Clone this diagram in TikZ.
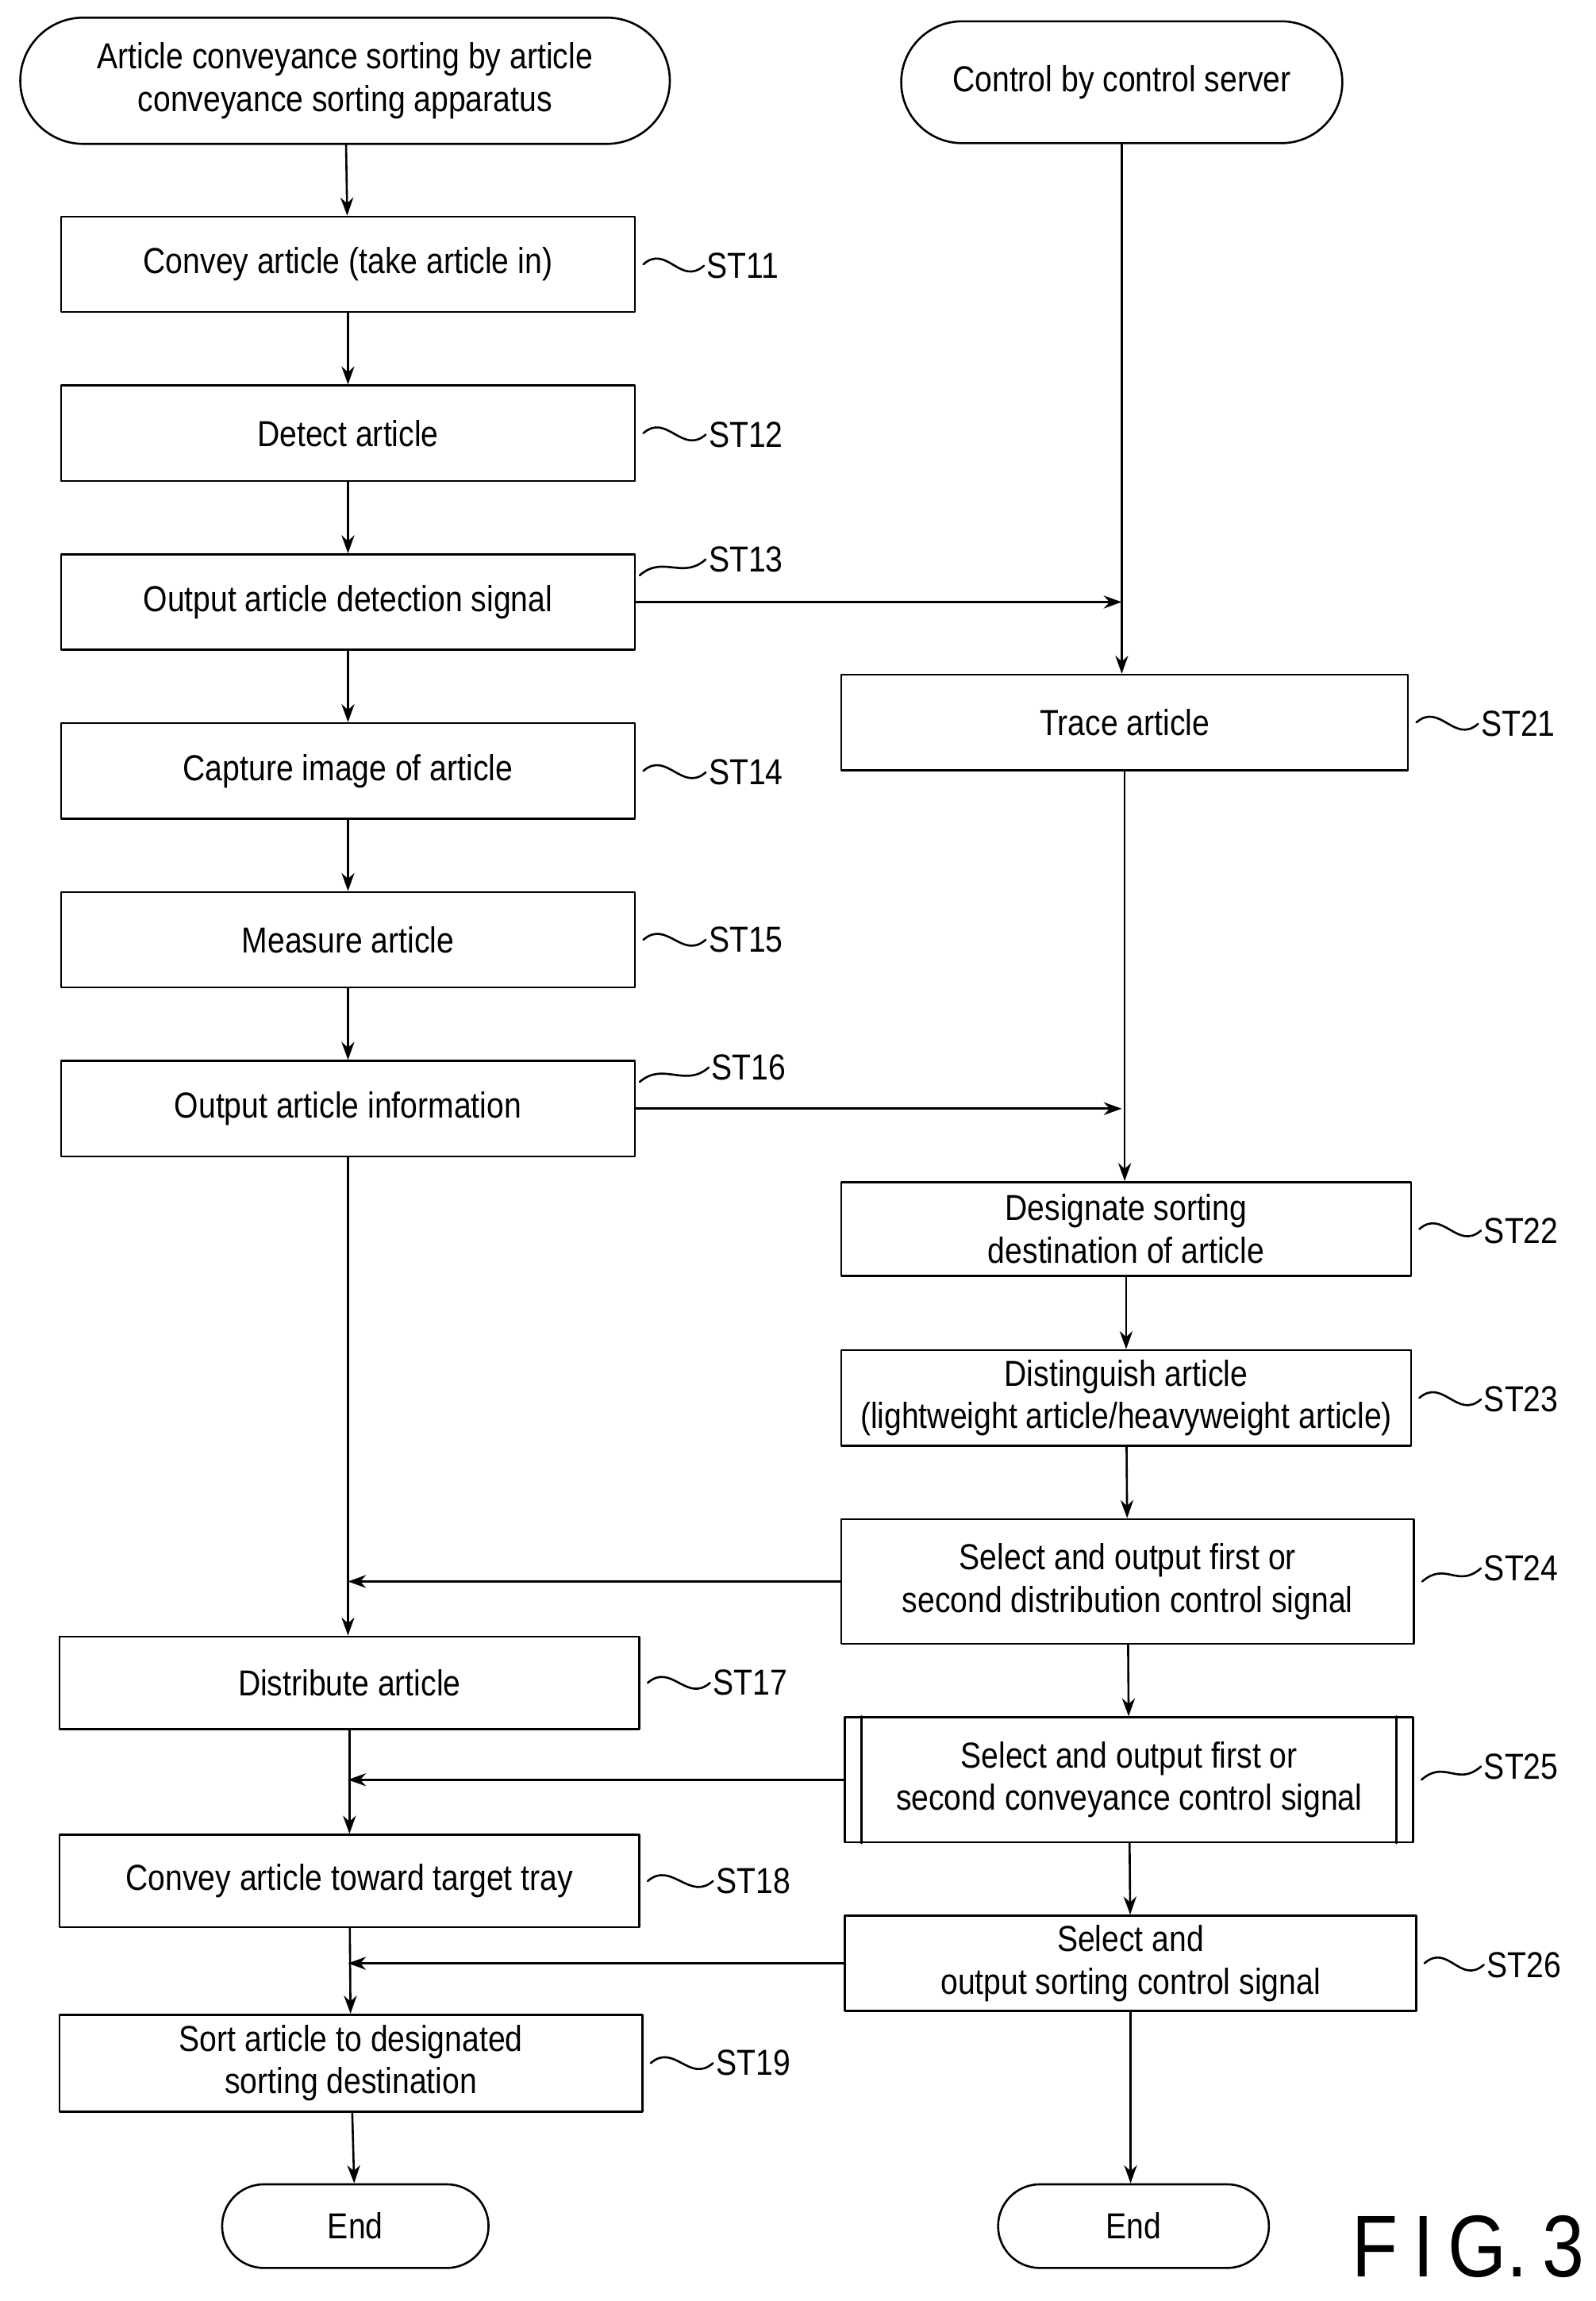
\documentclass[tikz,border=0pt]{standalone}
\usepackage{fontspec}
\setmainfont{Liberation Sans}[FakeStretch=0.86]
\usetikzlibrary{arrows.meta,positioning,shapes.misc}
\tikzset{every picture/.style={line cap=round, line join=round}}
\tikzset{box/.style={draw, rectangle, minimum width=7.82cm, minimum height=1.3cm,
  align=center, thick, inner sep=1pt}}
\tikzset{term/.style={draw, rounded rectangle, align=center, thick, inner sep=1pt}}
\tikzset{arrow/.style={-{Stealth[length=7pt,width=5pt]}, thick}}
\tikzset{line/.style={draw, thick}}
\tikzset{lab/.style={inner sep=1pt}}
\tikzset{tilde/.style={thick, to path={.. controls +(16,-14) and +(-16,14) .. (\tikztotarget)}}}

\begin{document}
\begin{tikzpicture}[x=0.02cm, y=-0.02cm, font=\fontsize{14}{16.5}\selectfont]
  \useasboundingbox (0,0) rectangle (1087,1567);
  % 開始
  \node[term, minimum width=8.92cm, minimum height=1.72cm] (startL) at (235,55)
    {Article conveyance sorting by article\\conveyance sorting apparatus};
  \node[term, minimum width=6.08cm, minimum height=1.66cm] (startR) at (764,56)
    {Control by control server};

  % 左列
  \node[box] (st11) at (237,180)  {Convey article (take article in)};
  \node[box] (st12) at (237,295)  {Detect article};
  \node[box] (st13) at (237,410)  {Output article detection signal};
  \node[box] (st14) at (237,525)  {Capture image of article};
  \node[box] (st15) at (237,640)  {Measure article};
  \node[box] (st16) at (237,755)  {Output article information};
  \node[box, minimum width=7.9cm, minimum height=1.26cm] (st17) at (238,1146) {Distribute article};
  \node[box, minimum width=7.9cm, minimum height=1.26cm] (st18) at (238,1281) {Convey article toward target tray};
  \node[box, minimum width=7.94cm, minimum height=1.32cm] (st19) at (239,1405)
    {Sort article to designated\\sorting destination};
  \node[term, minimum width=3.7cm, minimum height=1.14cm] (endL) at (242,1516) {End};

  % 右列
  \node[box, minimum width=7.72cm] (st21) at (766,492) {Trace article};
  \node[box, minimum width=7.76cm, minimum height=1.28cm] (st22) at (767,837)
    {Designate sorting\\destination of article};
  \node[box, minimum width=7.76cm] (st23) at (767,952)
    {Distinguish article\\(lightweight article/heavyweight article)};
  \node[box, minimum width=7.8cm, minimum height=1.7cm] (st24) at (768,1077)
    {Select and output first or\\second distribution control signal};
  \node[box, minimum width=7.74cm, minimum height=1.7cm] (st25) at (769,1212)
    {Select and output first or\\second conveyance control signal};
  \draw[line] ([xshift=0.24cm]st25.north west) -- ([xshift=0.24cm]st25.south west);
  \draw[line] ([xshift=-0.24cm]st25.north east) -- ([xshift=-0.24cm]st25.south east);
  \node[box, minimum width=7.78cm] (st26) at (770,1337)
    {Select and\\output sorting control signal};
  \node[term, minimum width=3.76cm, minimum height=1.14cm] (endR) at (772,1516) {End};

  % 左の流れ
  \draw[arrow] (startL) -- (st11);
  \draw[arrow] (st11) -- (st12);
  \draw[arrow] (st12) -- (st13);
  \draw[arrow] (st13) -- (st14);
  \draw[arrow] (st14) -- (st15);
  \draw[arrow] (st15) -- (st16);
  \draw[arrow] (st16) -- (st16 |- st17.north);
  \draw[arrow] (st17) -- (st18);
  \draw[arrow] (st18) -- (st19);
  \draw[arrow] (st19) -- (endL);

  % 右の流れ
  \draw[arrow] (startR) -- (startR |- st21.north);
  \draw[arrow] (st21) -- (st21 |- st22.north);
  \draw[arrow] (st22) -- (st23);
  \draw[arrow] (st23) -- (st24);
  \draw[arrow] (st24) -- (st25);
  \draw[arrow] (st25) -- (st26);
  \draw[arrow] (st26) -- (st26 |- endR.north);

  % 横の矢印
  \draw[arrow] (st13.east) -- (st13.east -| startR.south);
  \draw[arrow] (st16.east) -- (st16.east -| startR.south);
  \draw[arrow] (st24.west) -- (st24.west -| st16.south);
  \draw[arrow] (st25.west) -- (st25.west -| st16.south);
  \draw[arrow] (st26.west) -- (st26.west -| st16.south);

  % ステップ番号
  \foreach \n/\x/\y in {11/506/181, 12/508/296, 14/508/526, 15/508/640,
                        17/511/1146, 18/513/1281, 19/513/1405,
                        21/1034/493, 22/1036/838, 23/1036/953, 24/1036/1068,
                        25/1036/1203, 26/1038/1338}{
    \node[lab] (l\n) at (\x,\y) {ST\n};
    \draw[tilde] ([xshift=0.1cm]st\n.east) to (l\n.west);
  }
  \node[lab] (l13) at (508,381) {ST13};
  \draw[tilde] ([xshift=0.05cm,yshift=-0.3cm]st13.north east) to (l13.west);
  \node[lab] (l16) at (510,727) {ST16};
  \draw[tilde] ([xshift=0.05cm,yshift=-0.3cm]st16.north east) to (l16.west);

  % 図番号
  \node[font=\fontsize{34}{38}\selectfont] (fig) at (1000,1530) {F\,I\,G.\,3};
\end{tikzpicture}
\end{document}
